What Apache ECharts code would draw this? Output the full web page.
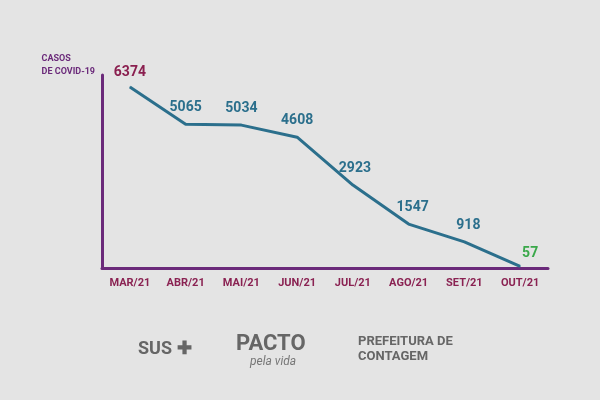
<!DOCTYPE html>
<html><head><meta charset="utf-8">
<script src="https://cdn.jsdelivr.net/npm/echarts@6/dist/echarts.min.js"></script>
<style>html,body{margin:0;background:#e4e4e4}#c{width:600px;height:400px}</style>
</head><body><div id="c"></div>
<script>
const categories = ['MAR/21','ABR/21','MAI/21','JUN/21','JUL/21','AGO/21','SET/21','OUT/21'];
const cases = [6374,5065,5034,4608,2923,1547,918,57];
const labelColors = ['#8a1f4f','#2b6f8c','#2b6f8c','#2b6f8c','#2b6f8c','#2b6f8c','#2b6f8c','#3aa84a'];
const labelOffsets = [[0,-2],[0,-4],[0,-4],[0,-4],[2,-4],[4,-4],[4,-4],[10,0]];
const chart = echarts.init(document.getElementById('c'));
chart.setOption({
  backgroundColor:'#e4e4e4',
  grid:{left:102,right:52,top:75,bottom:132},
  xAxis:{type:'category',data:categories,boundaryGap:true,
    axisLine:{lineStyle:{color:'#6b2a7a',width:3}},axisTick:{show:false},
    axisLabel:{color:'#8a2252',fontWeight:'bold',fontSize:11,fontFamily:'Roboto',margin:10}},
  yAxis:{type:'value',min:0,max:6800,splitLine:{show:false},axisLabel:{show:false},
    axisLine:{show:true,lineStyle:{color:'#6b2a7a',width:3}},axisTick:{show:false}},
  series:[{type:'line',data:cases.map((v,i)=>({value:v,label:{show:true,color:labelColors[i],position:'top',offset:labelOffsets[i],fontWeight:'bold',fontSize:14,fontFamily:'Roboto'}})),
    symbol:'circle',symbolSize:1,showSymbol:true,lineStyle:{color:'#2b6f8c',width:3},itemStyle:{color:'#2b6f8c'},
    label:{show:true,position:'top',fontWeight:'bold',fontSize:14,fontFamily:'Roboto'}}],
  graphic:[
    {type:'text',right:505,top:52,style:{text:'CASOS\nDE COVID-19',align:'right',fill:'#6b2a7a',font:'bold 9px Roboto',lineHeight:13}},
    {type:'text',left:138,top:340,style:{text:'SUS ✚',fill:'#666',font:'bold 18px Roboto'}},
    {type:'text',left:236,top:333,style:{text:'PACTO',fill:'#666',font:'bold 22px Roboto'}},
    {type:'text',left:250,top:356,style:{text:'pela vida',fill:'#777',font:'italic 12px Roboto'}},
    {type:'text',left:358,top:334,style:{text:'PREFEITURA DE\nCONTAGEM',fill:'#666',font:'bold 13px Roboto',lineHeight:15}}
  ]
});
</script></body></html>
